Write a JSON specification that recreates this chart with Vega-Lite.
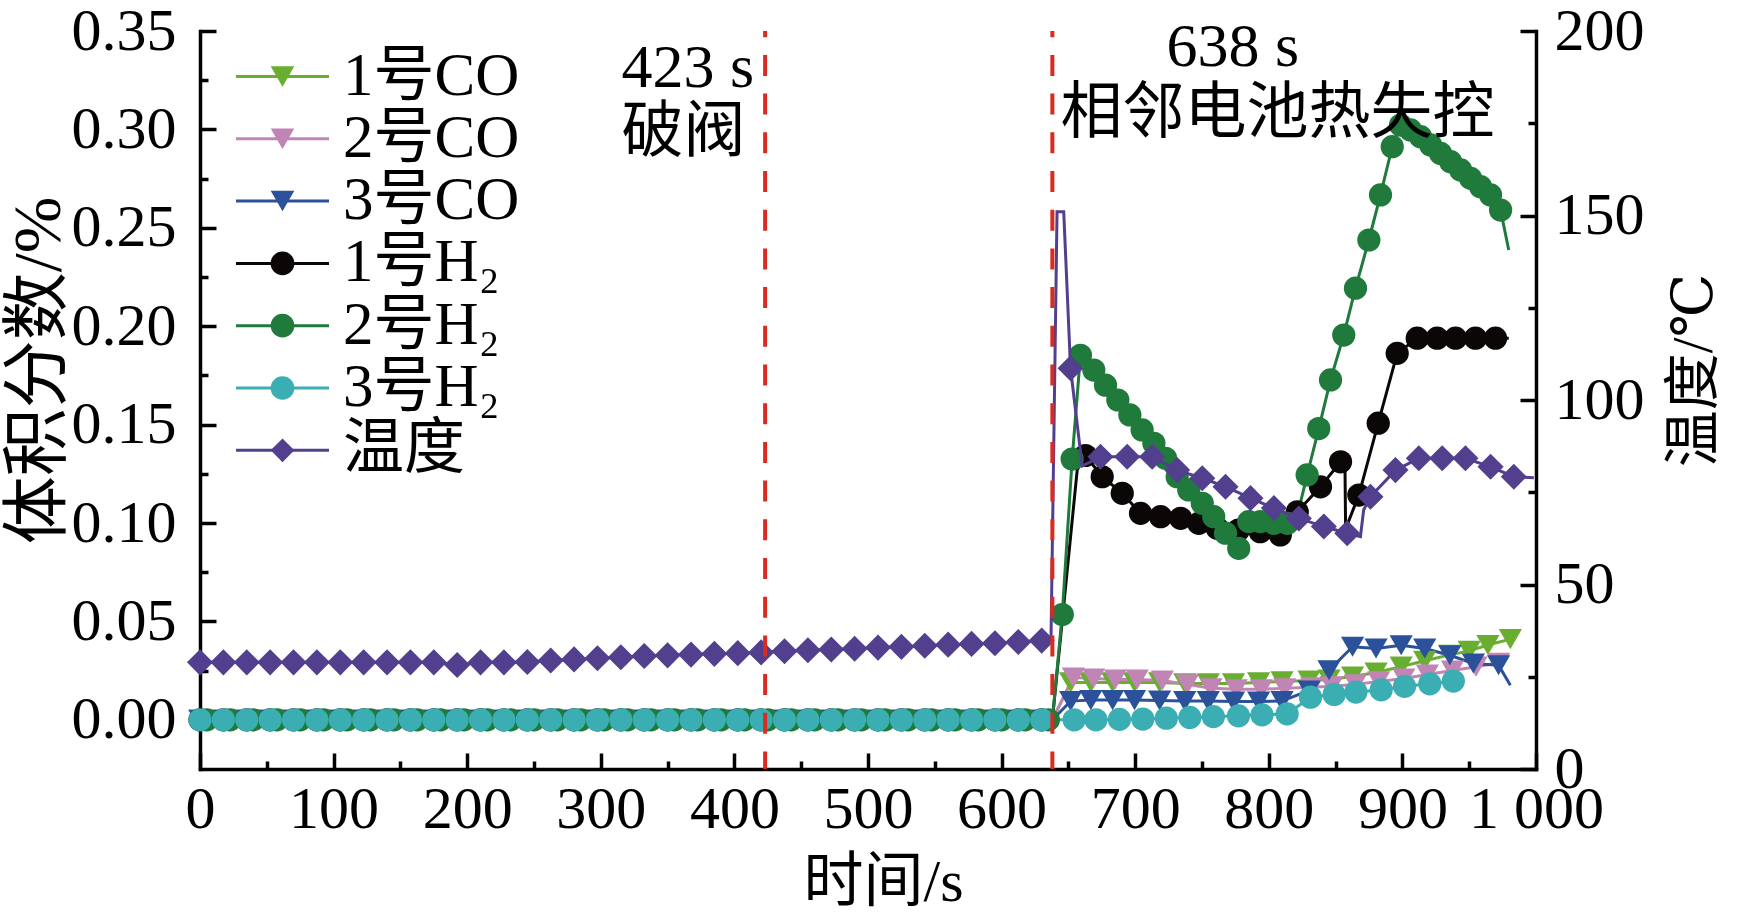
{
  "$schema": "https://vega.github.io/schema/vega-lite/v6.json",
  "description": "Gas volume fraction and temperature during thermal runaway",
  "width": 1336,
  "height": 738,
  "autosize": {"type": "none"},
  "padding": {"left": 200, "top": 31, "right": 201, "bottom": 150},
  "background": "white",
  "config": {
    "view": {"stroke": null},
    "axis": {
      "grid": false,
      "domainColor": "black",
      "domainWidth": 3.5,
      "domainCap": "square",
      "tickColor": "black",
      "tickWidth": 3.5,
      "labelFont": "Liberation Serif, DejaVu Serif, Noto Sans CJK SC",
      "labelFontSize": 60,
      "labelColor": "black",
      "labelBound": false,
      "labelFlush": false,
      "labelOverlap": false,
      "titleFont": "Liberation Serif, DejaVu Serif, Noto Sans CJK SC",
      "titleFontSize": 60,
      "titleFontWeight": "normal",
      "titleColor": "black"
    }
  },
  "datasets": {
    "events": [{"t": 423}, {"t": 638}],
    "notes": [
      {"t": 315.5, "v": 0.331, "label": "423 s"},
      {"t": 315.5, "v": 0.2984, "label": "破阀"},
      {"t": 723.4, "v": 0.342, "label": "638 s"},
      {"t": 644, "v": 0.3078, "label": "相邻电池热失控"}
    ],
    "temp": [
      {"s": "温度", "t": 0, "v": 28.9, "m": 1},
      {"s": "温度", "t": 17.5, "v": 28.9, "m": 1},
      {"s": "温度", "t": 35, "v": 28.9, "m": 1},
      {"s": "温度", "t": 52.5, "v": 28.9, "m": 1},
      {"s": "温度", "t": 70, "v": 28.9, "m": 1},
      {"s": "温度", "t": 87.5, "v": 28.9, "m": 1},
      {"s": "温度", "t": 105, "v": 28.9, "m": 1},
      {"s": "温度", "t": 122.5, "v": 28.9, "m": 1},
      {"s": "温度", "t": 140, "v": 28.9, "m": 1},
      {"s": "温度", "t": 157.5, "v": 28.9, "m": 1},
      {"s": "温度", "t": 175, "v": 28.9, "m": 1},
      {"s": "温度", "t": 192.5, "v": 28.2, "m": 1},
      {"s": "温度", "t": 210, "v": 28.9, "m": 1},
      {"s": "温度", "t": 227.5, "v": 28.9, "m": 1},
      {"s": "温度", "t": 245, "v": 29.0, "m": 1},
      {"s": "温度", "t": 262.5, "v": 29.4, "m": 1},
      {"s": "温度", "t": 280, "v": 29.7, "m": 1},
      {"s": "温度", "t": 297.5, "v": 30.0, "m": 1},
      {"s": "温度", "t": 315, "v": 30.3, "m": 1},
      {"s": "温度", "t": 332.5, "v": 30.6, "m": 1},
      {"s": "温度", "t": 350, "v": 30.8, "m": 1},
      {"s": "温度", "t": 367.5, "v": 31.0, "m": 1},
      {"s": "温度", "t": 385, "v": 31.2, "m": 1},
      {"s": "温度", "t": 402.5, "v": 31.4, "m": 1},
      {"s": "温度", "t": 420, "v": 31.6, "m": 1},
      {"s": "温度", "t": 437.5, "v": 31.9, "m": 1},
      {"s": "温度", "t": 455, "v": 32.2, "m": 1},
      {"s": "温度", "t": 472.5, "v": 32.4, "m": 1},
      {"s": "温度", "t": 490, "v": 32.6, "m": 1},
      {"s": "温度", "t": 507.5, "v": 32.9, "m": 1},
      {"s": "温度", "t": 525, "v": 33.1, "m": 1},
      {"s": "温度", "t": 542.5, "v": 33.4, "m": 1},
      {"s": "温度", "t": 560, "v": 33.7, "m": 1},
      {"s": "温度", "t": 577.5, "v": 33.9, "m": 1},
      {"s": "温度", "t": 595, "v": 34.1, "m": 1},
      {"s": "温度", "t": 612.5, "v": 34.4, "m": 1},
      {"s": "温度", "t": 630, "v": 34.8, "m": 1},
      {"s": "温度", "t": 637, "v": 35.5, "m": 0},
      {"s": "温度", "t": 641.5, "v": 151, "m": 0},
      {"s": "温度", "t": 646.5, "v": 151, "m": 0},
      {"s": "温度", "t": 651.6, "v": 108.6, "m": 1},
      {"s": "温度", "t": 660.3, "v": 82.1, "m": 0},
      {"s": "温度", "t": 674, "v": 84.6, "m": 1},
      {"s": "温度", "t": 694, "v": 84.6, "m": 1},
      {"s": "温度", "t": 712.7, "v": 84.6, "m": 1},
      {"s": "温度", "t": 731.4, "v": 81.0, "m": 1},
      {"s": "温度", "t": 750.2, "v": 78.8, "m": 1},
      {"s": "温度", "t": 767.6, "v": 76.5, "m": 1},
      {"s": "温度", "t": 786.3, "v": 73.4, "m": 1},
      {"s": "温度", "t": 803.8, "v": 70.7, "m": 1},
      {"s": "温度", "t": 822.5, "v": 67.9, "m": 1},
      {"s": "温度", "t": 841.2, "v": 65.7, "m": 1},
      {"s": "温度", "t": 858.7, "v": 63.9, "m": 1},
      {"s": "温度", "t": 868.6, "v": 63.0, "m": 0},
      {"s": "温度", "t": 871, "v": 70.2, "m": 0},
      {"s": "温度", "t": 876.1, "v": 73.8, "m": 1},
      {"s": "温度", "t": 894.8, "v": 81.0, "m": 1},
      {"s": "温度", "t": 912.3, "v": 84.2, "m": 1},
      {"s": "温度", "t": 929.8, "v": 84.2, "m": 1},
      {"s": "温度", "t": 947.2, "v": 84.2, "m": 1},
      {"s": "温度", "t": 966, "v": 81.9, "m": 1},
      {"s": "温度", "t": 983.4, "v": 79.2, "m": 1},
      {"s": "温度", "t": 998.4, "v": 78.9, "m": 0}
    ],
    "gas": [
      {"s": "1号CO", "t": 0, "v": 0, "m": 1}, {"s": "1号CO", "t": 17.5, "v": 0, "m": 1}, {"s": "1号CO", "t": 35, "v": 0, "m": 1}, {"s": "1号CO", "t": 52.5, "v": 0, "m": 1},
      {"s": "1号CO", "t": 70, "v": 0, "m": 1}, {"s": "1号CO", "t": 87.5, "v": 0, "m": 1}, {"s": "1号CO", "t": 105, "v": 0, "m": 1}, {"s": "1号CO", "t": 122.5, "v": 0, "m": 1},
      {"s": "1号CO", "t": 140, "v": 0, "m": 1}, {"s": "1号CO", "t": 157.5, "v": 0, "m": 1}, {"s": "1号CO", "t": 175, "v": 0, "m": 1}, {"s": "1号CO", "t": 192.5, "v": 0, "m": 1},
      {"s": "1号CO", "t": 210, "v": 0, "m": 1}, {"s": "1号CO", "t": 227.5, "v": 0, "m": 1}, {"s": "1号CO", "t": 245, "v": 0, "m": 1}, {"s": "1号CO", "t": 262.5, "v": 0, "m": 1},
      {"s": "1号CO", "t": 280, "v": 0, "m": 1}, {"s": "1号CO", "t": 297.5, "v": 0, "m": 1}, {"s": "1号CO", "t": 315, "v": 0, "m": 1}, {"s": "1号CO", "t": 332.5, "v": 0, "m": 1},
      {"s": "1号CO", "t": 350, "v": 0, "m": 1}, {"s": "1号CO", "t": 367.5, "v": 0, "m": 1}, {"s": "1号CO", "t": 385, "v": 0, "m": 1}, {"s": "1号CO", "t": 402.5, "v": 0, "m": 1},
      {"s": "1号CO", "t": 420, "v": 0, "m": 1}, {"s": "1号CO", "t": 437.5, "v": 0, "m": 1}, {"s": "1号CO", "t": 455, "v": 0, "m": 1}, {"s": "1号CO", "t": 472.5, "v": 0, "m": 1},
      {"s": "1号CO", "t": 490, "v": 0, "m": 1}, {"s": "1号CO", "t": 507.5, "v": 0, "m": 1}, {"s": "1号CO", "t": 525, "v": 0, "m": 1}, {"s": "1号CO", "t": 542.5, "v": 0, "m": 1},
      {"s": "1号CO", "t": 560, "v": 0, "m": 1}, {"s": "1号CO", "t": 577.5, "v": 0, "m": 1}, {"s": "1号CO", "t": 595, "v": 0, "m": 1}, {"s": "1号CO", "t": 612.5, "v": 0, "m": 1},
      {"s": "1号CO", "t": 630, "v": 0, "m": 1}, {"s": "1号CO", "t": 638, "v": 0, "m": 0},
      {"s": "1号CO", "t": 651.7, "v": 0.019, "m": 1}, {"s": "1号CO", "t": 666.8, "v": 0.019, "m": 1}, {"s": "1号CO", "t": 683.1, "v": 0.019, "m": 1}, {"s": "1号CO", "t": 699.5, "v": 0.019, "m": 1},
      {"s": "1号CO", "t": 718.3, "v": 0.019, "m": 1}, {"s": "1号CO", "t": 737.1, "v": 0.0185, "m": 1}, {"s": "1号CO", "t": 754.7, "v": 0.0185, "m": 1}, {"s": "1号CO", "t": 773.6, "v": 0.0185, "m": 1},
      {"s": "1号CO", "t": 792.4, "v": 0.019, "m": 1}, {"s": "1号CO", "t": 809.9, "v": 0.0195, "m": 1}, {"s": "1号CO", "t": 830.1, "v": 0.02, "m": 1}, {"s": "1号CO", "t": 845.1, "v": 0.0205, "m": 1},
      {"s": "1号CO", "t": 862.7, "v": 0.022, "m": 1}, {"s": "1号CO", "t": 880.3, "v": 0.024, "m": 1}, {"s": "1号CO", "t": 899.1, "v": 0.027, "m": 1}, {"s": "1号CO", "t": 916.7, "v": 0.03, "m": 1},
      {"s": "1号CO", "t": 935.5, "v": 0.033, "m": 1}, {"s": "1号CO", "t": 950, "v": 0.035, "m": 1}, {"s": "1号CO", "t": 964, "v": 0.038, "m": 1}, {"s": "1号CO", "t": 980.8, "v": 0.041, "m": 1},

      {"s": "2号CO", "t": 0, "v": 0, "m": 1}, {"s": "2号CO", "t": 17.5, "v": 0, "m": 1}, {"s": "2号CO", "t": 35, "v": 0, "m": 1}, {"s": "2号CO", "t": 52.5, "v": 0, "m": 1},
      {"s": "2号CO", "t": 70, "v": 0, "m": 1}, {"s": "2号CO", "t": 87.5, "v": 0, "m": 1}, {"s": "2号CO", "t": 105, "v": 0, "m": 1}, {"s": "2号CO", "t": 122.5, "v": 0, "m": 1},
      {"s": "2号CO", "t": 140, "v": 0, "m": 1}, {"s": "2号CO", "t": 157.5, "v": 0, "m": 1}, {"s": "2号CO", "t": 175, "v": 0, "m": 1}, {"s": "2号CO", "t": 192.5, "v": 0, "m": 1},
      {"s": "2号CO", "t": 210, "v": 0, "m": 1}, {"s": "2号CO", "t": 227.5, "v": 0, "m": 1}, {"s": "2号CO", "t": 245, "v": 0, "m": 1}, {"s": "2号CO", "t": 262.5, "v": 0, "m": 1},
      {"s": "2号CO", "t": 280, "v": 0, "m": 1}, {"s": "2号CO", "t": 297.5, "v": 0, "m": 1}, {"s": "2号CO", "t": 315, "v": 0, "m": 1}, {"s": "2号CO", "t": 332.5, "v": 0, "m": 1},
      {"s": "2号CO", "t": 350, "v": 0, "m": 1}, {"s": "2号CO", "t": 367.5, "v": 0, "m": 1}, {"s": "2号CO", "t": 385, "v": 0, "m": 1}, {"s": "2号CO", "t": 402.5, "v": 0, "m": 1},
      {"s": "2号CO", "t": 420, "v": 0, "m": 1}, {"s": "2号CO", "t": 437.5, "v": 0, "m": 1}, {"s": "2号CO", "t": 455, "v": 0, "m": 1}, {"s": "2号CO", "t": 472.5, "v": 0, "m": 1},
      {"s": "2号CO", "t": 490, "v": 0, "m": 1}, {"s": "2号CO", "t": 507.5, "v": 0, "m": 1}, {"s": "2号CO", "t": 525, "v": 0, "m": 1}, {"s": "2号CO", "t": 542.5, "v": 0, "m": 1},
      {"s": "2号CO", "t": 560, "v": 0, "m": 1}, {"s": "2号CO", "t": 577.5, "v": 0, "m": 1}, {"s": "2号CO", "t": 595, "v": 0, "m": 1}, {"s": "2号CO", "t": 612.5, "v": 0, "m": 1},
      {"s": "2号CO", "t": 630, "v": 0, "m": 1}, {"s": "2号CO", "t": 638, "v": 0, "m": 0},
      {"s": "2号CO", "t": 653.7, "v": 0.0215, "m": 1}, {"s": "2号CO", "t": 668.8, "v": 0.021, "m": 1}, {"s": "2号CO", "t": 685.1, "v": 0.0205, "m": 1}, {"s": "2号CO", "t": 701.5, "v": 0.0205, "m": 1},
      {"s": "2号CO", "t": 720.3, "v": 0.02, "m": 1}, {"s": "2号CO", "t": 739.1, "v": 0.018, "m": 1}, {"s": "2号CO", "t": 756.7, "v": 0.016, "m": 1}, {"s": "2号CO", "t": 775.6, "v": 0.0155, "m": 1},
      {"s": "2号CO", "t": 794.4, "v": 0.0155, "m": 1}, {"s": "2号CO", "t": 811.9, "v": 0.016, "m": 1}, {"s": "2号CO", "t": 832.1, "v": 0.0165, "m": 1}, {"s": "2号CO", "t": 847.1, "v": 0.017, "m": 1},
      {"s": "2号CO", "t": 864.7, "v": 0.018, "m": 1}, {"s": "2号CO", "t": 882.3, "v": 0.0195, "m": 1}, {"s": "2号CO", "t": 901.1, "v": 0.021, "m": 1}, {"s": "2号CO", "t": 918.7, "v": 0.023, "m": 1},
      {"s": "2号CO", "t": 937.5, "v": 0.025, "m": 1}, {"s": "2号CO", "t": 955.1, "v": 0.027, "m": 1}, {"s": "2号CO", "t": 972, "v": 0.029, "m": 1},

      {"s": "3号CO", "t": 0, "v": 0, "m": 1}, {"s": "3号CO", "t": 17.5, "v": 0, "m": 1}, {"s": "3号CO", "t": 35, "v": 0, "m": 1}, {"s": "3号CO", "t": 52.5, "v": 0, "m": 1},
      {"s": "3号CO", "t": 70, "v": 0, "m": 1}, {"s": "3号CO", "t": 87.5, "v": 0, "m": 1}, {"s": "3号CO", "t": 105, "v": 0, "m": 1}, {"s": "3号CO", "t": 122.5, "v": 0, "m": 1},
      {"s": "3号CO", "t": 140, "v": 0, "m": 1}, {"s": "3号CO", "t": 157.5, "v": 0, "m": 1}, {"s": "3号CO", "t": 175, "v": 0, "m": 1}, {"s": "3号CO", "t": 192.5, "v": 0, "m": 1},
      {"s": "3号CO", "t": 210, "v": 0, "m": 1}, {"s": "3号CO", "t": 227.5, "v": 0, "m": 1}, {"s": "3号CO", "t": 245, "v": 0, "m": 1}, {"s": "3号CO", "t": 262.5, "v": 0, "m": 1},
      {"s": "3号CO", "t": 280, "v": 0, "m": 1}, {"s": "3号CO", "t": 297.5, "v": 0, "m": 1}, {"s": "3号CO", "t": 315, "v": 0, "m": 1}, {"s": "3号CO", "t": 332.5, "v": 0, "m": 1},
      {"s": "3号CO", "t": 350, "v": 0, "m": 1}, {"s": "3号CO", "t": 367.5, "v": 0, "m": 1}, {"s": "3号CO", "t": 385, "v": 0, "m": 1}, {"s": "3号CO", "t": 402.5, "v": 0, "m": 1},
      {"s": "3号CO", "t": 420, "v": 0, "m": 1}, {"s": "3号CO", "t": 437.5, "v": 0, "m": 1}, {"s": "3号CO", "t": 455, "v": 0, "m": 1}, {"s": "3号CO", "t": 472.5, "v": 0, "m": 1},
      {"s": "3号CO", "t": 490, "v": 0, "m": 1}, {"s": "3号CO", "t": 507.5, "v": 0, "m": 1}, {"s": "3号CO", "t": 525, "v": 0, "m": 1}, {"s": "3号CO", "t": 542.5, "v": 0, "m": 1},
      {"s": "3号CO", "t": 560, "v": 0, "m": 1}, {"s": "3号CO", "t": 577.5, "v": 0, "m": 1}, {"s": "3号CO", "t": 595, "v": 0, "m": 1}, {"s": "3号CO", "t": 612.5, "v": 0, "m": 1},
      {"s": "3号CO", "t": 630, "v": 0, "m": 1}, {"s": "3号CO", "t": 638, "v": 0, "m": 0},
      {"s": "3号CO", "t": 651.7, "v": 0.0095, "m": 1}, {"s": "3号CO", "t": 666.8, "v": 0.01, "m": 1}, {"s": "3号CO", "t": 683.1, "v": 0.01, "m": 1}, {"s": "3号CO", "t": 699.5, "v": 0.01, "m": 1},
      {"s": "3号CO", "t": 718.3, "v": 0.0098, "m": 1}, {"s": "3号CO", "t": 737.1, "v": 0.0095, "m": 1}, {"s": "3号CO", "t": 754.7, "v": 0.0095, "m": 1}, {"s": "3号CO", "t": 773.6, "v": 0.0093, "m": 1},
      {"s": "3号CO", "t": 792.4, "v": 0.0093, "m": 1}, {"s": "3号CO", "t": 809.9, "v": 0.0095, "m": 1}, {"s": "3号CO", "t": 830.1, "v": 0.0149, "m": 1}, {"s": "3号CO", "t": 845.1, "v": 0.0252, "m": 1},
      {"s": "3号CO", "t": 862.7, "v": 0.0371, "m": 1}, {"s": "3号CO", "t": 880.3, "v": 0.0362, "m": 1}, {"s": "3号CO", "t": 899.1, "v": 0.0379, "m": 1}, {"s": "3号CO", "t": 916.7, "v": 0.0362, "m": 1},
      {"s": "3号CO", "t": 935.5, "v": 0.0328, "m": 1}, {"s": "3号CO", "t": 953.1, "v": 0.0286, "m": 1}, {"s": "3号CO", "t": 972, "v": 0.0277, "m": 1}, {"s": "3号CO", "t": 980.8, "v": 0.0175, "m": 0},

      {"s": "1号H₂", "t": 0, "v": 0, "m": 1}, {"s": "1号H₂", "t": 17.5, "v": 0, "m": 1}, {"s": "1号H₂", "t": 35, "v": 0, "m": 1}, {"s": "1号H₂", "t": 52.5, "v": 0, "m": 1},
      {"s": "1号H₂", "t": 70, "v": 0, "m": 1}, {"s": "1号H₂", "t": 87.5, "v": 0, "m": 1}, {"s": "1号H₂", "t": 105, "v": 0, "m": 1}, {"s": "1号H₂", "t": 122.5, "v": 0, "m": 1},
      {"s": "1号H₂", "t": 140, "v": 0, "m": 1}, {"s": "1号H₂", "t": 157.5, "v": 0, "m": 1}, {"s": "1号H₂", "t": 175, "v": 0, "m": 1}, {"s": "1号H₂", "t": 192.5, "v": 0, "m": 1},
      {"s": "1号H₂", "t": 210, "v": 0, "m": 1}, {"s": "1号H₂", "t": 227.5, "v": 0, "m": 1}, {"s": "1号H₂", "t": 245, "v": 0, "m": 1}, {"s": "1号H₂", "t": 262.5, "v": 0, "m": 1},
      {"s": "1号H₂", "t": 280, "v": 0, "m": 1}, {"s": "1号H₂", "t": 297.5, "v": 0, "m": 1}, {"s": "1号H₂", "t": 315, "v": 0, "m": 1}, {"s": "1号H₂", "t": 332.5, "v": 0, "m": 1},
      {"s": "1号H₂", "t": 350, "v": 0, "m": 1}, {"s": "1号H₂", "t": 367.5, "v": 0, "m": 1}, {"s": "1号H₂", "t": 385, "v": 0, "m": 1}, {"s": "1号H₂", "t": 402.5, "v": 0, "m": 1},
      {"s": "1号H₂", "t": 420, "v": 0, "m": 1}, {"s": "1号H₂", "t": 437.5, "v": 0, "m": 1}, {"s": "1号H₂", "t": 455, "v": 0, "m": 1}, {"s": "1号H₂", "t": 472.5, "v": 0, "m": 1},
      {"s": "1号H₂", "t": 490, "v": 0, "m": 1}, {"s": "1号H₂", "t": 507.5, "v": 0, "m": 1}, {"s": "1号H₂", "t": 525, "v": 0, "m": 1}, {"s": "1号H₂", "t": 542.5, "v": 0, "m": 1},
      {"s": "1号H₂", "t": 560, "v": 0, "m": 1}, {"s": "1号H₂", "t": 577.5, "v": 0, "m": 1}, {"s": "1号H₂", "t": 595, "v": 0, "m": 1}, {"s": "1号H₂", "t": 612.5, "v": 0, "m": 1},
      {"s": "1号H₂", "t": 630, "v": 0, "m": 1}, {"s": "1号H₂", "t": 638, "v": 0, "m": 0},
      {"s": "1号H₂", "t": 656.6, "v": 0.127, "m": 0}, {"s": "1号H₂", "t": 662.8, "v": 0.1343, "m": 1}, {"s": "1号H₂", "t": 675.3, "v": 0.1235, "m": 1}, {"s": "1号H₂", "t": 690.3, "v": 0.1151, "m": 1},
      {"s": "1号H₂", "t": 704, "v": 0.1049, "m": 1}, {"s": "1号H₂", "t": 719, "v": 0.1032, "m": 1}, {"s": "1号H₂", "t": 734, "v": 0.1024, "m": 1}, {"s": "1号H₂", "t": 747.6, "v": 0.0998, "m": 1},
      {"s": "1号H₂", "t": 761.4, "v": 0.0973, "m": 1}, {"s": "1号H₂", "t": 777.3, "v": 0.0964, "m": 1}, {"s": "1号H₂", "t": 793.6, "v": 0.0956, "m": 1}, {"s": "1号H₂", "t": 808.6, "v": 0.0939, "m": 1},
      {"s": "1号H₂", "t": 821.3, "v": 0.1057, "m": 1}, {"s": "1号H₂", "t": 838.7, "v": 0.1184, "m": 1}, {"s": "1号H₂", "t": 853.7, "v": 0.1311, "m": 1}, {"s": "1号H₂", "t": 857, "v": 0.130, "m": 0},
      {"s": "1号H₂", "t": 857.5, "v": 0.097, "m": 0}, {"s": "1号H₂", "t": 867.4, "v": 0.1142, "m": 1}, {"s": "1号H₂", "t": 881.9, "v": 0.1507, "m": 1}, {"s": "1号H₂", "t": 896.1, "v": 0.1862, "m": 1},
      {"s": "1号H₂", "t": 911.1, "v": 0.1939, "m": 1}, {"s": "1号H₂", "t": 926, "v": 0.1939, "m": 1}, {"s": "1号H₂", "t": 939.8, "v": 0.1939, "m": 1}, {"s": "1号H₂", "t": 954.7, "v": 0.1939, "m": 1},
      {"s": "1号H₂", "t": 969.7, "v": 0.1939, "m": 1}, {"s": "1号H₂", "t": 979.6, "v": 0.1939, "m": 0},

      {"s": "2号H₂", "t": 5, "v": 0, "m": 1}, {"s": "2号H₂", "t": 22.5, "v": 0, "m": 1}, {"s": "2号H₂", "t": 40, "v": 0, "m": 1}, {"s": "2号H₂", "t": 57.5, "v": 0, "m": 1},
      {"s": "2号H₂", "t": 75, "v": 0, "m": 1}, {"s": "2号H₂", "t": 92.5, "v": 0, "m": 1}, {"s": "2号H₂", "t": 110, "v": 0, "m": 1}, {"s": "2号H₂", "t": 127.5, "v": 0, "m": 1},
      {"s": "2号H₂", "t": 145, "v": 0, "m": 1}, {"s": "2号H₂", "t": 162.5, "v": 0, "m": 1}, {"s": "2号H₂", "t": 180, "v": 0, "m": 1}, {"s": "2号H₂", "t": 197.5, "v": 0, "m": 1},
      {"s": "2号H₂", "t": 215, "v": 0, "m": 1}, {"s": "2号H₂", "t": 232.5, "v": 0, "m": 1}, {"s": "2号H₂", "t": 250, "v": 0, "m": 1}, {"s": "2号H₂", "t": 267.5, "v": 0, "m": 1},
      {"s": "2号H₂", "t": 285, "v": 0, "m": 1}, {"s": "2号H₂", "t": 302.5, "v": 0, "m": 1}, {"s": "2号H₂", "t": 320, "v": 0, "m": 1}, {"s": "2号H₂", "t": 337.5, "v": 0, "m": 1},
      {"s": "2号H₂", "t": 355, "v": 0, "m": 1}, {"s": "2号H₂", "t": 372.5, "v": 0, "m": 1}, {"s": "2号H₂", "t": 390, "v": 0, "m": 1}, {"s": "2号H₂", "t": 407.5, "v": 0, "m": 1},
      {"s": "2号H₂", "t": 425, "v": 0, "m": 1}, {"s": "2号H₂", "t": 442.5, "v": 0, "m": 1}, {"s": "2号H₂", "t": 460, "v": 0, "m": 1}, {"s": "2号H₂", "t": 477.5, "v": 0, "m": 1},
      {"s": "2号H₂", "t": 495, "v": 0, "m": 1}, {"s": "2号H₂", "t": 512.5, "v": 0, "m": 1}, {"s": "2号H₂", "t": 530, "v": 0, "m": 1}, {"s": "2号H₂", "t": 547.5, "v": 0, "m": 1},
      {"s": "2号H₂", "t": 565, "v": 0, "m": 1}, {"s": "2号H₂", "t": 582.5, "v": 0, "m": 1}, {"s": "2号H₂", "t": 600, "v": 0, "m": 1}, {"s": "2号H₂", "t": 617.5, "v": 0, "m": 1},
      {"s": "2号H₂", "t": 635, "v": 0, "m": 1}, {"s": "2号H₂", "t": 638, "v": 0, "m": 0},
      {"s": "2号H₂", "t": 645.4, "v": 0.0535, "m": 1}, {"s": "2号H₂", "t": 652.8, "v": 0.1325, "m": 1}, {"s": "2号H₂", "t": 659, "v": 0.1852, "m": 1}, {"s": "2号H₂", "t": 669, "v": 0.1777, "m": 1},
      {"s": "2号H₂", "t": 677.8, "v": 0.170, "m": 1}, {"s": "2号H₂", "t": 687, "v": 0.1625, "m": 1}, {"s": "2号H₂", "t": 696, "v": 0.1549, "m": 1}, {"s": "2号H₂", "t": 705.2, "v": 0.1473, "m": 1},
      {"s": "2号H₂", "t": 714, "v": 0.1405, "m": 1}, {"s": "2号H₂", "t": 722.7, "v": 0.1329, "m": 1}, {"s": "2号H₂", "t": 731.4, "v": 0.1235, "m": 1}, {"s": "2号H₂", "t": 740.1, "v": 0.1168, "m": 1},
      {"s": "2号H₂", "t": 750.2, "v": 0.110, "m": 1}, {"s": "2号H₂", "t": 758.8, "v": 0.1032, "m": 1}, {"s": "2号H₂", "t": 767.6, "v": 0.0948, "m": 1}, {"s": "2号H₂", "t": 777.5, "v": 0.0871, "m": 1},
      {"s": "2号H₂", "t": 779, "v": 0.100, "m": 0}, {"s": "2号H₂", "t": 785, "v": 0.1007, "m": 1}, {"s": "2号H₂", "t": 793.8, "v": 0.1007, "m": 1}, {"s": "2号H₂", "t": 803.8, "v": 0.0998, "m": 1},
      {"s": "2号H₂", "t": 813.8, "v": 0.0998, "m": 1}, {"s": "2号H₂", "t": 820, "v": 0.100, "m": 0}, {"s": "2号H₂", "t": 828.7, "v": 0.1244, "m": 1}, {"s": "2号H₂", "t": 837.4, "v": 0.148, "m": 1},
      {"s": "2号H₂", "t": 846.2, "v": 0.1727, "m": 1}, {"s": "2号H₂", "t": 856.1, "v": 0.1955, "m": 1}, {"s": "2号H₂", "t": 864.9, "v": 0.2193, "m": 1}, {"s": "2号H₂", "t": 874.9, "v": 0.2438, "m": 1},
      {"s": "2号H₂", "t": 883.6, "v": 0.2667, "m": 1}, {"s": "2号H₂", "t": 892.4, "v": 0.2912, "m": 1}, {"s": "2号H₂", "t": 898.6, "v": 0.3022, "m": 1}, {"s": "2号H₂", "t": 906.1, "v": 0.2997, "m": 1},
      {"s": "2号H₂", "t": 913.6, "v": 0.2963, "m": 1}, {"s": "2号H₂", "t": 921.1, "v": 0.2921, "m": 1}, {"s": "2号H₂", "t": 928.6, "v": 0.2878, "m": 1}, {"s": "2号H₂", "t": 936.1, "v": 0.2836, "m": 1},
      {"s": "2号H₂", "t": 943.6, "v": 0.2794, "m": 1}, {"s": "2号H₂", "t": 951.1, "v": 0.2751, "m": 1}, {"s": "2号H₂", "t": 958.5, "v": 0.2709, "m": 1}, {"s": "2号H₂", "t": 966, "v": 0.2667, "m": 1},
      {"s": "2号H₂", "t": 973.5, "v": 0.259, "m": 1}, {"s": "2号H₂", "t": 979.6, "v": 0.2387, "m": 0},

      {"s": "3号H₂", "t": 0, "v": 0, "m": 1}, {"s": "3号H₂", "t": 17.5, "v": 0, "m": 1}, {"s": "3号H₂", "t": 35, "v": 0, "m": 1}, {"s": "3号H₂", "t": 52.5, "v": 0, "m": 1},
      {"s": "3号H₂", "t": 70, "v": 0, "m": 1}, {"s": "3号H₂", "t": 87.5, "v": 0, "m": 1}, {"s": "3号H₂", "t": 105, "v": 0, "m": 1}, {"s": "3号H₂", "t": 122.5, "v": 0, "m": 1},
      {"s": "3号H₂", "t": 140, "v": 0, "m": 1}, {"s": "3号H₂", "t": 157.5, "v": 0, "m": 1}, {"s": "3号H₂", "t": 175, "v": 0, "m": 1}, {"s": "3号H₂", "t": 192.5, "v": 0, "m": 1},
      {"s": "3号H₂", "t": 210, "v": 0, "m": 1}, {"s": "3号H₂", "t": 227.5, "v": 0, "m": 1}, {"s": "3号H₂", "t": 245, "v": 0, "m": 1}, {"s": "3号H₂", "t": 262.5, "v": 0, "m": 1},
      {"s": "3号H₂", "t": 280, "v": 0, "m": 1}, {"s": "3号H₂", "t": 297.5, "v": 0, "m": 1}, {"s": "3号H₂", "t": 315, "v": 0, "m": 1}, {"s": "3号H₂", "t": 332.5, "v": 0, "m": 1},
      {"s": "3号H₂", "t": 350, "v": 0, "m": 1}, {"s": "3号H₂", "t": 367.5, "v": 0, "m": 1}, {"s": "3号H₂", "t": 385, "v": 0, "m": 1}, {"s": "3号H₂", "t": 402.5, "v": 0, "m": 1},
      {"s": "3号H₂", "t": 420, "v": 0, "m": 1}, {"s": "3号H₂", "t": 437.5, "v": 0, "m": 1}, {"s": "3号H₂", "t": 455, "v": 0, "m": 1}, {"s": "3号H₂", "t": 472.5, "v": 0, "m": 1},
      {"s": "3号H₂", "t": 490, "v": 0, "m": 1}, {"s": "3号H₂", "t": 507.5, "v": 0, "m": 1}, {"s": "3号H₂", "t": 525, "v": 0, "m": 1}, {"s": "3号H₂", "t": 542.5, "v": 0, "m": 1},
      {"s": "3号H₂", "t": 560, "v": 0, "m": 1}, {"s": "3号H₂", "t": 577.5, "v": 0, "m": 1}, {"s": "3号H₂", "t": 595, "v": 0, "m": 1}, {"s": "3号H₂", "t": 612.5, "v": 0, "m": 1},
      {"s": "3号H₂", "t": 630, "v": 0, "m": 1},
      {"s": "3号H₂", "t": 654.3, "v": 0, "m": 1}, {"s": "3号H₂", "t": 670.6, "v": 0, "m": 1}, {"s": "3号H₂", "t": 688.2, "v": 0.0002, "m": 1}, {"s": "3号H₂", "t": 705.7, "v": 0.0004, "m": 1},
      {"s": "3号H₂", "t": 723.3, "v": 0.0008, "m": 1}, {"s": "3号H₂", "t": 740.9, "v": 0.0012, "m": 1}, {"s": "3号H₂", "t": 758.5, "v": 0.0016, "m": 1}, {"s": "3号H₂", "t": 777.3, "v": 0.002, "m": 1},
      {"s": "3号H₂", "t": 794.9, "v": 0.0025, "m": 1}, {"s": "3号H₂", "t": 813.7, "v": 0.003, "m": 1}, {"s": "3号H₂", "t": 831.2, "v": 0.0115, "m": 1}, {"s": "3号H₂", "t": 848.9, "v": 0.0129, "m": 1},
      {"s": "3号H₂", "t": 865.2, "v": 0.0141, "m": 1}, {"s": "3号H₂", "t": 884.1, "v": 0.0152, "m": 1}, {"s": "3号H₂", "t": 901.6, "v": 0.017, "m": 1}, {"s": "3号H₂", "t": 920.5, "v": 0.0183, "m": 1},
      {"s": "3号H₂", "t": 938.1, "v": 0.0197, "m": 1}
    ]
  },
  "layer": [
    {
      "encoding": {
        "x": {
          "field": "t",
          "type": "quantitative",
          "scale": {"domain": [0, 1000], "nice": false, "zero": false},
          "axis": {
            "orient": "bottom",
            "title": "时间/s",
            "values": [0, 100, 200, 300, 400, 500, 600, 700, 800, 900, 1000],
            "labelExpr": "datum.value === 1000 ? '1 000' : '' + datum.value",
            "tickSize": -16,
            "labelPadding": 56,
            "labelAlign": "center",
            "labelBaseline": "middle",
            "titleX": 683,
            "titleY": 113,
            "titleAngle": 0,
            "titleAlign": "center",
            "titleBaseline": "middle"
          }
        },
        "y": {
          "field": "v",
          "type": "quantitative",
          "scale": {"domain": [-0.025, 0.35], "nice": false, "zero": false},
          "axis": {
            "orient": "left",
            "title": "体积分数/%",
            "values": [0, 0.05, 0.1, 0.15, 0.2, 0.25, 0.3, 0.35],
            "format": ".2f",
            "tickSize": -16,
            "labelPadding": 40,
            "labelAlign": "right",
            "labelBaseline": "middle",
            "titleFontSize": 68,
            "titleX": -161,
            "titleY": 339,
            "titleAngle": 270,
            "titleAlign": "center",
            "titleBaseline": "middle"
          }
        }
      },
      "layer": [
        {
          "data": {"name": "gas"},
          "mark": {"type": "line", "strokeWidth": 3},
          "encoding": {
            "stroke": {
              "field": "s",
              "type": "nominal",
              "scale": {
                "domain": ["1号CO", "2号CO", "3号CO", "1号H₂", "2号H₂", "3号H₂", "温度", "_"],
                "range": ["#6aae31", "#c085b4", "#2a5199", "#0b0707", "#1f7a3c", "#3aaeb2", "#523f8d", "#ffffff"]
              },
              "legend": {
                "title": null,
                "orient": "none",
                "legendX": 34.5,
                "legendY": 15,
                "padding": 0,
                "values": ["1号CO", "2号CO", "3号CO", "1号H₂", "2号H₂", "3号H₂", "温度"],
                "symbolType": "stroke",
                "symbolSize": 8649,
                "symbolStrokeWidth": 3,
                "labelFont": "Liberation Serif, DejaVu Serif, Noto Sans CJK SC",
                "labelFontSize": 61,
                "labelColor": "black",
                "labelLimit": 600,
                "labelOffset": 12.5,
                "rowPadding": 0.3,
                "clipHeight": 61
              }
            }
          }
        },
        {
          "data": {"name": "gas"},
          "transform": [{"filter": "datum.m == 1"}],
          "mark": {"type": "point", "filled": true, "opacity": 1, "strokeWidth": 0},
          "encoding": {
            "fill": {
              "field": "s",
              "type": "nominal",
              "scale": {
                "domain": ["1号CO", "2号CO", "3号CO", "1号H₂", "2号H₂", "3号H₂", "温度"],
                "range": ["#6aae31", "#c085b4", "#2a5199", "#0b0707", "#1f7a3c", "#3aaeb2", "#523f8d"]
              },
              "legend": {
                "title": null,
                "orient": "none",
                "legendX": 52,
                "legendY": 15,
                "padding": 0,
                "symbolSize": 560,
                "symbolStrokeWidth": 0,
                "labelFont": "Liberation Serif, DejaVu Serif, Noto Sans CJK SC",
                "labelFontSize": 61,
                "labelExpr": "'\u200b'",
                "labelLimit": 600,
                "rowPadding": 0.3,
                "clipHeight": 61
              }
            },
            "shape": {
              "field": "s",
              "type": "nominal",
              "scale": {
                "domain": ["1号CO", "2号CO", "3号CO", "1号H₂", "2号H₂", "3号H₂", "温度"],
                "range": ["triangle-down", "triangle-down", "triangle-down", "circle", "circle", "circle", "diamond"]
              }
            },
            "size": {
              "field": "s",
              "type": "nominal",
              "scale": {
                "domain": ["1号CO", "2号CO", "3号CO", "1号H₂", "2号H₂", "3号H₂"],
                "range": [540, 540, 540, 420, 420, 420]
              },
              "legend": null
            }
          }
        },
        {
          "data": {"name": "notes"},
          "mark": {
            "type": "text",
            "align": "left",
            "baseline": "middle",
            "font": "Liberation Serif, DejaVu Serif, Noto Sans CJK SC",
            "fontSize": 62,
            "color": "black"
          },
          "encoding": {"text": {"field": "label"}}
        }
      ]
    },
    {
      "data": {"name": "temp"},
      "encoding": {
        "x": {
          "field": "t",
          "type": "quantitative",
          "scale": {"domain": [0, 1000], "nice": false, "zero": false},
          "axis": null
        },
        "y": {
          "field": "v",
          "type": "quantitative",
          "scale": {"domain": [0, 200], "nice": false, "zero": false},
          "axis": {
            "orient": "right",
            "title": "温度/℃",
            "values": [0, 50, 100, 150, 200],
            "tickSize": -16,
            "labelPadding": 34,
            "labelAlign": "left",
            "labelBaseline": "middle",
            "titleFontSize": 57,
            "titleX": 158,
            "titleY": 339,
            "titleAngle": 270,
            "titleAlign": "center",
            "titleBaseline": "middle"
          }
        }
      },
      "layer": [
        {
          "mark": {"type": "line", "strokeWidth": 3},
          "encoding": {
            "stroke": {
              "field": "s",
              "type": "nominal",
              "scale": {
                "domain": ["1号CO", "2号CO", "3号CO", "1号H₂", "2号H₂", "3号H₂", "温度", "_"],
                "range": ["#6aae31", "#c085b4", "#2a5199", "#0b0707", "#1f7a3c", "#3aaeb2", "#523f8d", "#ffffff"]
              }
            }
          }
        },
        {
          "transform": [{"filter": "datum.m == 1"}],
          "mark": {"type": "point", "filled": true, "opacity": 1, "strokeWidth": 0, "size": 680},
          "encoding": {
            "fill": {
              "field": "s",
              "type": "nominal",
              "scale": {
                "domain": ["1号CO", "2号CO", "3号CO", "1号H₂", "2号H₂", "3号H₂", "温度"],
                "range": ["#6aae31", "#c085b4", "#2a5199", "#0b0707", "#1f7a3c", "#3aaeb2", "#523f8d"]
              }
            },
            "shape": {
              "field": "s",
              "type": "nominal",
              "scale": {
                "domain": ["1号CO", "2号CO", "3号CO", "1号H₂", "2号H₂", "3号H₂", "温度"],
                "range": ["triangle-down", "triangle-down", "triangle-down", "circle", "circle", "circle", "diamond"]
              }
            }
          }
        }
      ]
    },
    {
      "data": {"name": "events"},
      "mark": {"type": "rule", "color": "#d92b20", "strokeWidth": 4, "strokeDash": [21, 17.7], "strokeDashOffset": 14.8},
      "encoding": {
        "x": {
          "field": "t",
          "type": "quantitative",
          "scale": {"domain": [0, 1000], "nice": false, "zero": false},
          "axis": null
        }
      }
    },
    {
      "data": {"name": "notes"},
      "mark": {"type": "point", "opacity": 0},
      "encoding": {
        "x": {
          "field": "t",
          "type": "quantitative",
          "scale": {"domain": [0, 1000], "nice": false, "zero": false},
          "axis": {
            "orient": "bottom",
            "values": [50, 150, 250, 350, 450, 550, 650, 750, 850, 950],
            "labels": false,
            "domain": false,
            "tickSize": -8,
            "title": null
          }
        },
        "y": {
          "field": "v",
          "type": "quantitative",
          "scale": {"domain": [-0.025, 0.35], "nice": false, "zero": false},
          "axis": {
            "orient": "left",
            "values": [0.025, 0.075, 0.125, 0.175, 0.225, 0.275, 0.325],
            "labels": false,
            "domain": false,
            "tickSize": -8,
            "title": null
          }
        }
      }
    },
    {
      "data": {"name": "notes"},
      "mark": {"type": "point", "opacity": 0},
      "encoding": {
        "x": {
          "field": "t",
          "type": "quantitative",
          "scale": {"domain": [0, 1000], "nice": false, "zero": false},
          "axis": null
        },
        "y": {
          "field": "v",
          "type": "quantitative",
          "scale": {"domain": [0, 200], "nice": false, "zero": false},
          "axis": {
            "orient": "right",
            "values": [25, 75, 125, 175],
            "labels": false,
            "domain": false,
            "tickSize": -8,
            "title": null
          }
        }
      }
    }
  ],
  "resolve": {"scale": {"y": "independent"}, "axis": {"x": "independent"}}
}
